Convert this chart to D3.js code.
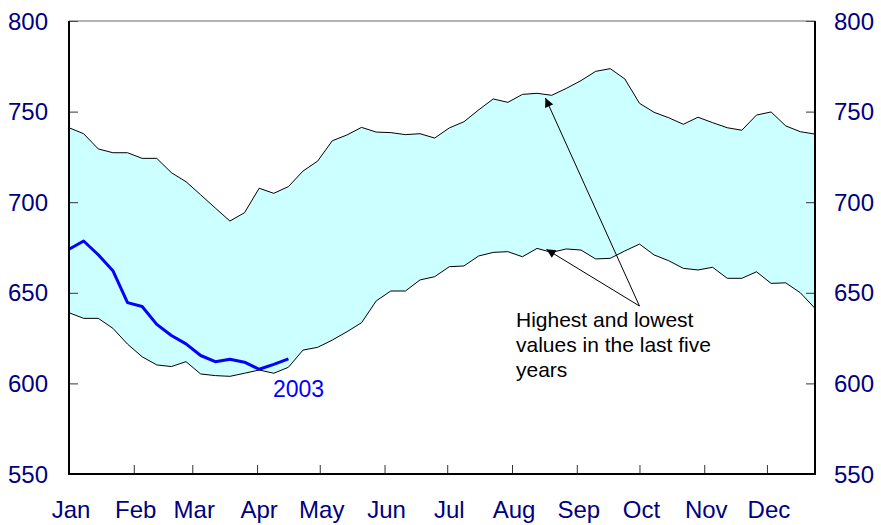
<!DOCTYPE html>
<html>
<head>
<meta charset="utf-8">
<script src="https://cdn.jsdelivr.net/npm/d3@7"></script>
<style>
  body { margin: 0; background: #fff; }
  svg { display: block; font-family: "Liberation Sans", Arial, sans-serif; }
</style>
</head>
<body>
<svg id="chart" width="881" height="525"></svg>
<script>
// weekly values, week i sits at day i*7
var highest = [741.1, 737.8, 729.4, 727.3, 727.3, 724.2, 724.2, 716.3, 711.3, 704.1,
  696.8, 689.6, 694.2, 707.7, 704.9, 708.6, 717.2, 722.7, 733.9, 737.1,
  741.3, 738.7, 738.4, 737.3, 737.8, 735.4, 741.0, 744.4, 750.9, 757.0,
  755.1, 759.5, 760.1, 759.0, 762.8, 767.1, 772.2, 773.7, 768.0, 754.6,
  749.6, 746.6, 743.0, 746.9, 743.9, 741.1, 739.7, 748.1, 749.8, 742.1,
  738.9, 737.6];
var lowest = [639.0, 635.9, 635.9, 630.4, 621.7, 614.7, 610.2, 609.3, 612.0, 605.2,
  604.3, 603.9, 605.6, 607.4, 605.6, 608.9, 618.4, 619.9, 623.9, 628.5,
  633.5, 645.5, 651.0, 651.0, 657.1, 658.9, 664.4, 664.8, 670.3, 672.3,
  672.7, 669.9, 674.5, 672.3, 674.2, 673.6, 668.7, 669.0, 673.1, 676.9,
  670.9, 667.7, 663.5, 662.6, 664.1, 658.0, 658.0, 661.6, 655.2, 655.5,
  650.0, 641.4];
var y2003 = [674.0, 678.6, 671.0, 662.2, 644.6, 642.4, 632.6, 626.4, 621.8, 615.4,
  612.0, 613.3, 611.7, 607.8, 610.5, 613.5];

var months = ["Jan", "Feb", "Mar", "Apr", "May", "Jun", "Jul", "Aug", "Sep", "Oct", "Nov", "Dec"];
var monthStart = [0, 31, 59, 90, 120, 151, 181, 212, 243, 273, 304, 334];
var yTicks = [550, 600, 650, 700, 750, 800];

var svg = d3.select("#chart");
var plotL = 69, plotR = 815, plotT = 21, plotB = 474;
var navy = "#000080";

var x = d3.scaleLinear().domain([0, 357]).range([plotL, plotR]);
var y = d3.scaleLinear().domain([550, 800]).range([plotB, plotT]);

var band = highest.map(function(h, i) { return { d: i * 7, hi: h, lo: lowest[i] }; });

// shaded range of the last five years
svg.append("path")
  .datum(band)
  .attr("fill", "#ccffff")
  .attr("d", d3.area().x(function(d) { return x(d.d); })
    .y0(function(d) { return y(d.lo); })
    .y1(function(d) { return y(d.hi); }));

var edge = function(key) {
  return d3.line().x(function(d) { return x(d.d); }).y(function(d) { return y(d[key]); });
};
svg.append("path").datum(band).attr("fill", "none").attr("stroke", "#000")
  .attr("stroke-width", 1).attr("d", edge("hi"));
svg.append("path").datum(band).attr("fill", "none").attr("stroke", "#000")
  .attr("stroke-width", 1).attr("d", edge("lo"));

// 2003
svg.append("path")
  .datum(y2003.map(function(v, i) { return { d: i * 7, v: v }; }))
  .attr("fill", "none").attr("stroke", "#0000ff").attr("stroke-width", 3)
  .attr("stroke-linejoin", "round")
  .attr("d", d3.line().x(function(d) { return x(d.d); }).y(function(d) { return y(d.v); }));

svg.append("text").attr("x", 273).attr("y", 397)
  .attr("fill", "#0000ff").style("font-size", "23px").text("2003");

// axes
var gl = svg.append("g").attr("transform", "translate(" + plotL + ",0)")
  .call(d3.axisRight(y).tickValues(yTicks).tickSize(9).tickFormat(""));
var gr = svg.append("g").attr("transform", "translate(" + plotR + ",0)")
  .call(d3.axisLeft(y).tickValues(yTicks).tickSize(9).tickFormat(""));
var gb = svg.append("g").attr("transform", "translate(0," + plotB + ")")
  .call(d3.axisTop(x).tickValues(monthStart.slice(1)).tickSize(9).tickFormat(""));
[gl, gr, gb].forEach(function(g) {
  g.select(".domain").remove();
  g.selectAll("line").attr("stroke", "#333");
});

// frame
svg.append("line").attr("x1", plotL).attr("x2", plotR).attr("y1", plotT).attr("y2", plotT)
  .attr("stroke", "#666").attr("stroke-width", 1);
svg.append("line").attr("x1", plotL).attr("x2", plotL).attr("y1", plotT).attr("y2", plotB + 1)
  .attr("stroke", "#000").attr("stroke-width", 2);
svg.append("line").attr("x1", plotR).attr("x2", plotR).attr("y1", plotT).attr("y2", plotB + 1)
  .attr("stroke", "#000").attr("stroke-width", 2);
svg.append("line").attr("x1", plotL).attr("x2", plotR).attr("y1", plotB).attr("y2", plotB)
  .attr("stroke", "#000").attr("stroke-width", 2);

// tick labels
svg.selectAll(".yl").data(yTicks).enter().append("text")
  .attr("x", 48).attr("y", function(d) { return y(d); }).attr("dy", "0.36em")
  .attr("text-anchor", "end").attr("fill", navy).style("font-size", "24px")
  .text(function(d) { return d; });
svg.selectAll(".yr").data(yTicks).enter().append("text")
  .attr("x", 834).attr("y", function(d) { return y(d); }).attr("dy", "0.36em")
  .attr("text-anchor", "start").attr("fill", navy).style("font-size", "24px")
  .text(function(d) { return d; });
svg.selectAll(".xl").data(months).enter().append("text")
  .attr("x", function(d, i) { return x(monthStart[i]) + 2; }).attr("y", 518)
  .attr("text-anchor", "middle").attr("fill", navy).style("font-size", "24px")
  .text(function(d) { return d; });

// annotation
svg.append("defs").append("marker")
  .attr("id", "head").attr("viewBox", "0 0 10 10").attr("refX", 10).attr("refY", 5)
  .attr("markerWidth", 11).attr("markerHeight", 9).attr("markerUnits", "userSpaceOnUse")
  .attr("orient", "auto")
  .append("path").attr("d", "M0,0L10,5L0,10Z").attr("fill", "#000");

var from = [273, 642.7];
var tips = [[228, 757.5], [228.5, 674]];
tips.forEach(function(t) {
  svg.append("line")
    .attr("x1", x(from[0])).attr("y1", y(from[1]))
    .attr("x2", x(t[0])).attr("y2", y(t[1]))
    .attr("stroke", "#000").attr("stroke-width", 1)
    .attr("marker-end", "url(#head)");
});

var note = ["Highest and lowest", "values in the last five", "years"];
svg.append("text").attr("x", 516).attr("y", 327)
  .style("font-size", "21px").attr("fill", "#000")
  .selectAll("tspan").data(note).enter().append("tspan")
  .attr("x", 516).attr("dy", function(d, i) { return i ? 25 : 0; })
  .text(function(d) { return d; });
</script>
</body>
</html>
